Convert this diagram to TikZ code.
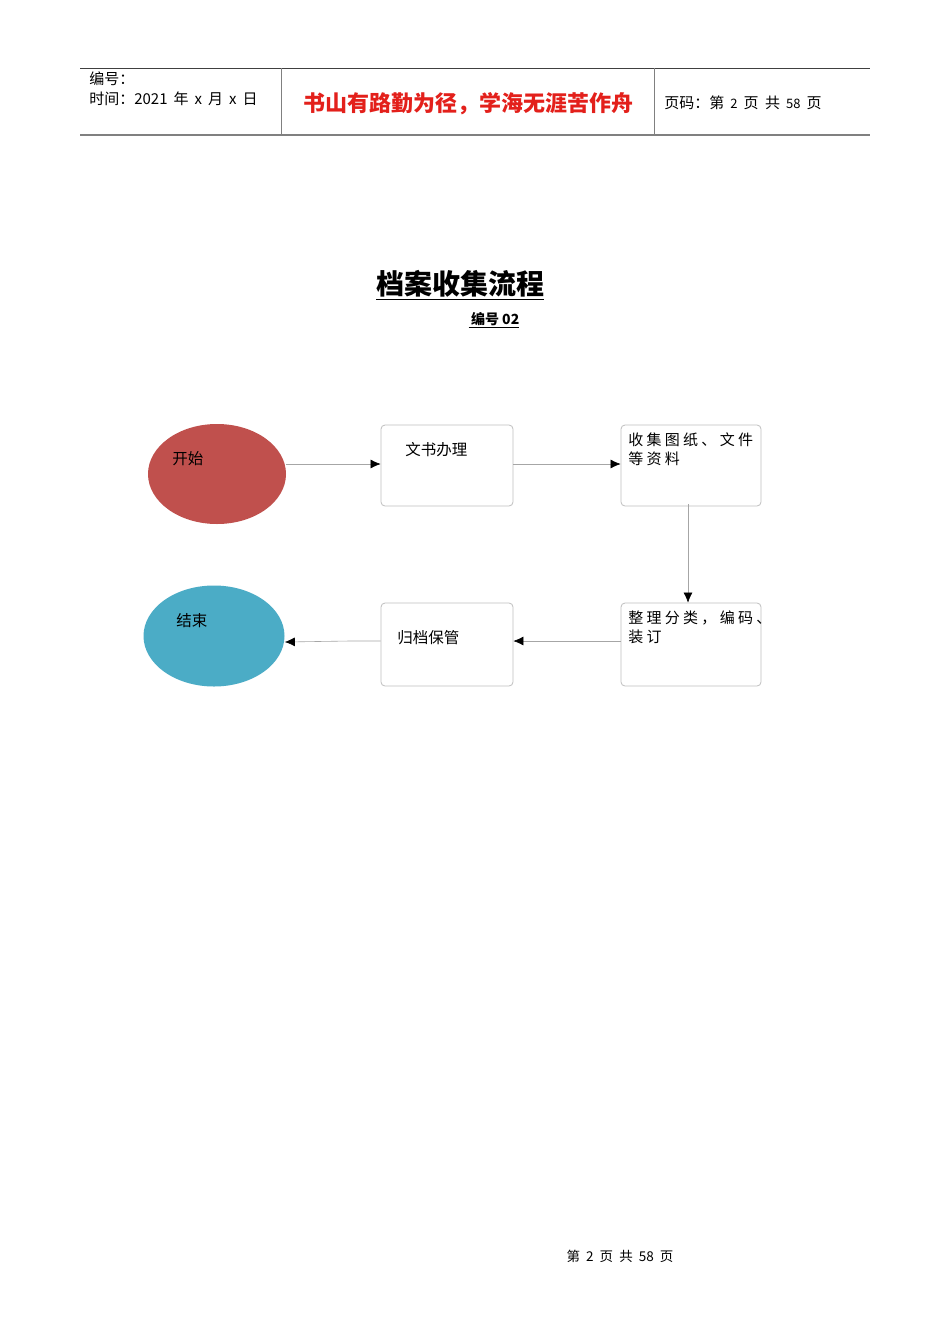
\documentclass[tikz,border=0pt]{standalone}
\usepackage{fontspec}
\setmainfont{Noto Sans CJK SC}
\usepackage{tikz}
\usetikzlibrary{shapes.geometric,arrows.meta}
\usepackage{xcolor}
\definecolor{FontColor}{HTML}{000000}
\definecolor{RedNC}{HTML}{C0504D}
\definecolor{BlueNC}{HTML}{4BACC6}
\definecolor{LineNC}{HTML}{A6A6A6}
\definecolor{BoxNC}{HTML}{BFBFBF}
\definecolor{MottoNC}{HTML}{E3201B}
\newcommand\nodeks{开始}
\newcommand\nodejs{结束}
\newcommand\nodews{文书办理}
\newcommand\nodesj{收集图纸、文件\\等资料}
\newcommand\nodezl{整理分类，编码、\\装订}
\newcommand\nodegd{归档保管}
\newcommand\hgap{\hspace{6pt}}
\tikzstyle{mytextstyle} = [inner sep=0pt, text=FontColor, font=\fontsize{15.5}{19}\selectfont, align=left, anchor=west]
\tikzstyle{en} = [ellipse, minimum width=138pt, minimum height=100pt, draw=none]
\tikzstyle{bx} = [rectangle, rounded corners=4pt, draw=BoxNC, line width=0.8pt, fill=white]
\tikzstyle{hd} = [inner sep=0pt, anchor=west, font=\fontsize{15}{18}\selectfont]
\tikzset{>={Latex[length=10pt,width=9pt,color=black]}, every picture/.style={line width=0.6pt}}

\begin{document}
\begin{tikzpicture}[x=1pt,y=-1pt]
\useasboundingbox[fill=white] (0,0) rectangle (950,1344);
% header
\draw [color=black!75, line width=0.8pt] (80,68) -- (870,68);
\draw [color=black!50, line width=1.8pt] (80,135) -- (870,135);
\draw [color=black!50, line width=0.7pt] (281,68) -- (281,135);
\draw [color=black!50, line width=0.7pt] (654,68) -- (654,135);
\node[hd] (bh) at (89,79) {编号：};
\node[hd] (sj) at (89,99) {时间：2021\hgap 年\hgap x\hgap 月\hgap x\hgap 日};
\node[inner sep=0pt, text=MottoNC, font=\fontsize{22}{25}\selectfont\bfseries] (motto) at (468,104) {书山有路勤为径，学海无涯苦作舟};
\node[hd] (ym) at (664,103) {页码：第\hgap{\fontsize{13}{15}\selectfont 2}\hgap 页\ \ 共\hgap{\fontsize{13}{15}\selectfont 58}\hgap 页};
% title
\node[inner sep=0pt, font=\fontsize{28}{31}\selectfont\bfseries] (title) at (460,285) {\underline{档案收集流程}};
\node[inner sep=0pt, font=\fontsize{14}{16}\selectfont\bfseries] (no) at (494,320) {\underline{\,编号 02}};
% flow
\node[en, fill=RedNC] (ks) at (217,474) {};
\node[en, fill=BlueNC, minimum width=141pt, minimum height=101pt] (js) at (214,636) {};
\node[bx, minimum width=132pt, minimum height=81pt] (ws) at (447,465.5) {};
\node[bx, minimum width=140pt, minimum height=81pt] (sj) at (691,465.5) {};
\node[bx, minimum width=140pt, minimum height=83pt] (zl) at (691,644.5) {};
\node[bx, minimum width=132pt, minimum height=83pt] (gd) at (447,644.5) {};
\node[mytextstyle] (kst) at (172,459) {\nodeks};
\node[mytextstyle] (jst) at (176,621) {\nodejs};
\node[mytextstyle] (wst) at (405,450) {\nodews};
\node[mytextstyle, anchor=north west, font=\fontsize{15}{19}\selectfont\addfontfeature{LetterSpace=22}] (sjt) at (628,432) {\nodesj};
\node[mytextstyle, anchor=north west, font=\fontsize{15}{19}\selectfont\addfontfeature{LetterSpace=22}] (zlt) at (628,611) {\nodezl};
\node[mytextstyle] (gdt) at (397,638) {\nodegd};
\draw [->, LineNC] (ks.east |- 0,464) -- (ws.west |- 0,464);
\draw [->, LineNC] (ws.east |- 0,464) -- (sj.west |- 0,464);
\draw [->, LineNC] (688,504) -- (zl.north -| 688,0);
\draw [->, LineNC] (zl.west |- 0,641) -- (gd.east |- 0,641);
\draw [->, LineNC] (gd.west |- 0,641) -- (350,641) -- (js.east |- 0,642);
% footer
\node[inner sep=0pt, font=\fontsize{13.5}{15}\selectfont] (ft) at (620,1256) {第\ \ 2\ \ 页\ \ 共\ \ 58\ \ 页};
\end{tikzpicture}
\end{document}
